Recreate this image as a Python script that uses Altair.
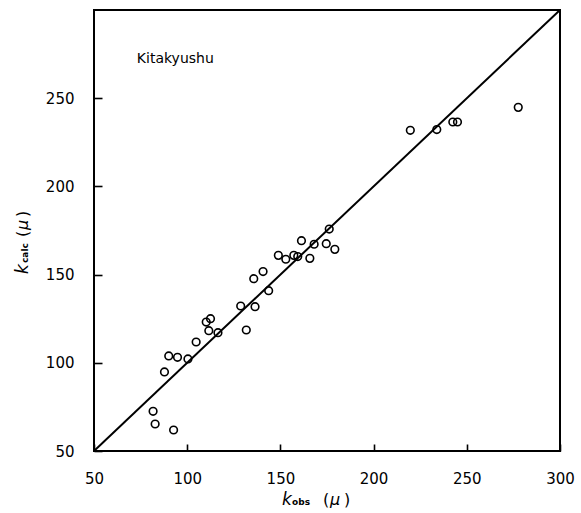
import altair as alt
import pandas as pd

k_obs = [81.7, 82.8, 92.7, 87.8, 90.1, 94.8, 100.4, 104.8, 110.2, 112.5, 111.6, 116.5,
         128.7, 131.7, 136.4, 135.7, 140.7, 143.7, 148.9, 152.9, 157.2, 159.3, 161.3,
         165.8, 168.1, 174.6, 176.2, 179.2, 219.7, 233.9, 242.5, 245.0, 277.6]
k_calc = [72.5, 65.3, 61.9, 94.8, 103.9, 103.1, 102.2, 111.8, 123.1, 125.0, 118.2, 117.1,
          132.2, 118.6, 131.8, 147.7, 151.7, 140.9, 160.9, 158.7, 160.9, 160.2, 169.2,
          159.2, 167.2, 167.5, 175.8, 164.3, 231.8, 232.2, 236.5, 236.5, 244.8]
line_x = [50, 300]
line_y = [50, 300]
x_labels = [50, 100, 150, 200, 250, 300]
y_labels = [50, 100, 150, 200, 250]
site = "Kitakyushu"

W, H = 466, 441
FONT = "DejaVu Sans"
XT, YT = 7, 8   # inward tick lengths (px)

xs = alt.Scale(domain=[50, 300], nice=False, zero=False)
ys = alt.Scale(domain=[50, 300], nice=False, zero=False)

# axes pulled inward by the tick length so the ticks point into the plot;
# the frame itself is the view stroke
x_axis = alt.Axis(values=x_labels, title=None, grid=False, ticks=True,
                  tickSize=XT, tickWidth=1.6, tickColor="black", offset=-XT,
                  domain=False,
                  labelFont=FONT, labelFontSize=15, labelColor="black",
                  labelFlush=False, labelOverlap=False, labelPadding=13 + XT)
y_axis = alt.Axis(values=y_labels, title=None, grid=False, ticks=True,
                  tickSize=YT, tickWidth=1.6, tickColor="black", offset=-YT,
                  domain=False,
                  labelFont=FONT, labelFontSize=15, labelColor="black",
                  labelFlush=False, labelOverlap=False, labelPadding=12 + YT)

pts = pd.DataFrame({"x": k_obs, "y": k_calc})
line_df = pd.DataFrame({"x": line_x, "y": line_y})

diag = alt.Chart(line_df).mark_line(color="black", strokeWidth=2).encode(
    x=alt.X("x:Q", scale=xs, axis=x_axis),
    y=alt.Y("y:Q", scale=ys, axis=y_axis),
)

points = alt.Chart(pts).mark_point(shape="circle", filled=False, color="black",
                                   strokeWidth=1.6, size=58, opacity=1).encode(
    x=alt.X("x:Q"), y=alt.Y("y:Q"),
)

label = alt.Chart(pd.DataFrame({"x": [73], "y": [270], "t": [site]})).mark_text(
    font=FONT, fontSize=14, align="left", baseline="alphabetic", color="black"
).encode(x="x:Q", y="y:Q", text="t:N")


def txt(s, x, y, size, angle=0, style="normal", weight="normal"):
    kw = dict(font=FONT, fontSize=size, align="left", baseline="alphabetic",
              color="black", fontStyle=style, fontWeight=weight)
    if angle:
        kw["angle"] = angle
    return alt.Chart(pd.DataFrame({"t": [s]})).mark_text(**kw).encode(
        text="t:N", x=alt.value(x), y=alt.value(y))


titles = [
    txt("k", 188, 495, 17, style="italic"),
    txt("obs", 198, 495, 9, weight="bold"),
    txt("(", 229, 495, 16),
    txt("μ", 236, 495, 16, style="italic"),
    txt(")", 250, 495, 16),
    txt("k", -66, 264, 17, angle=270, style="italic"),
    txt("calc", -66, 253, 9, angle=270, weight="bold"),
    txt("(", -66, 227, 16, angle=270),
    txt("μ", -66, 220, 16, angle=270, style="italic"),
    txt(")", -66, 207, 16, angle=270),
]

chart = alt.layer(diag, points, label, *titles).properties(
    width=W, height=H,
    autosize=alt.AutoSizeParams(type="none"),
    padding={"left": 94, "top": 10, "right": 21, "bottom": 62},
    background="white",
).configure_view(stroke="black", strokeWidth=2)

chart.save("out.html", embed_options={"renderer": "svg", "actions": False})
